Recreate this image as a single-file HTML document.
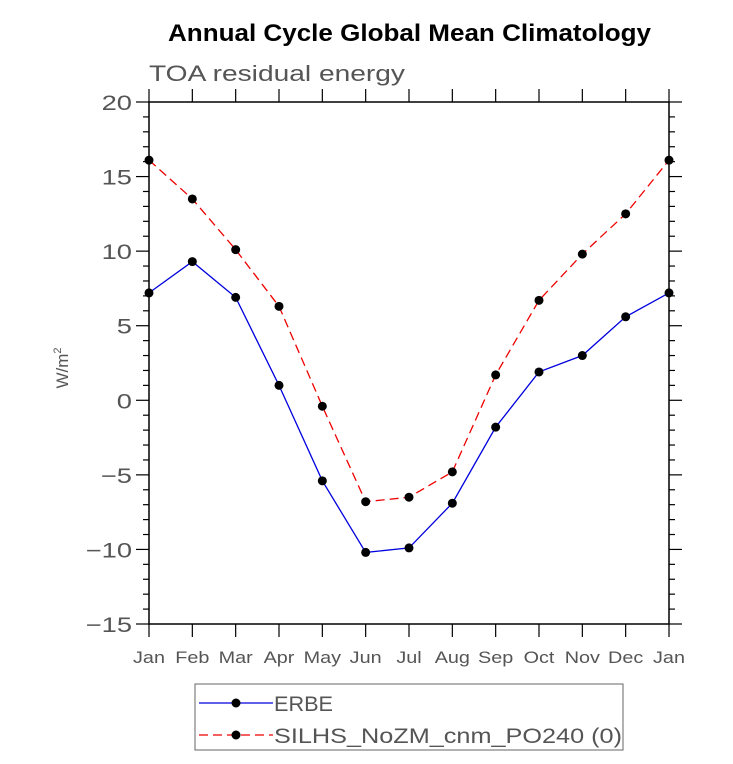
<!DOCTYPE html>
<html><head><meta charset="utf-8"><style>
body{margin:0;background:#fff;}
svg text{font-family:"Liberation Sans",sans-serif;}
</style></head><body>
<svg id="chart" width="733" height="759" xmlns="http://www.w3.org/2000/svg">
<text x="168" y="41" font-size="24" font-weight="bold" fill="#000" textLength="483" lengthAdjust="spacingAndGlyphs">Annual Cycle Global Mean Climatology</text>
<text x="149" y="81" font-size="22" fill="#555" textLength="256" lengthAdjust="spacingAndGlyphs">TOA residual energy</text>
<text transform="translate(68,368) rotate(-90)" text-anchor="middle" font-size="17" fill="#555">W/m<tspan font-size="11" dy="-7">2</tspan></text>
<g id="axes"></g>
<g id="series"></g>
<g>
<rect x="195" y="684" width="428" height="66" fill="none" stroke="#666" stroke-width="1"/>
<line x1="199" y1="703" x2="273" y2="703" stroke="#0000dd" stroke-width="1.3"/>
<circle cx="236" cy="703" r="4.5" fill="#000"/>
<text x="274" y="711" font-size="21" fill="#555" textLength="59" lengthAdjust="spacingAndGlyphs">ERBE</text>
<line x1="199" y1="735" x2="273" y2="735" stroke="#ee0000" stroke-width="1.3" stroke-dasharray="9,5"/>
<circle cx="236" cy="735" r="4.5" fill="#000"/>
<text x="274" y="743" font-size="21" fill="#555" textLength="348" lengthAdjust="spacingAndGlyphs">SILHS_NoZM_cnm_PO240 (0)</text>
</g>
</svg>
<script>
const months=["Jan","Feb","Mar","Apr","May","Jun","Jul","Aug","Sep","Oct","Nov","Dec","Jan"];
const erbe=[7.2,9.3,6.9,1.0,-5.4,-10.2,-9.9,-6.9,-1.8,1.9,3.0,5.6,7.2];
const silhs=[16.1,13.5,10.1,6.3,-0.4,-6.8,-6.5,-4.8,1.7,6.7,9.8,12.5,16.1];
const yTicks=[-15,-10,-5,0,5,10,15,20];
const L=149,R=669,T=102,B=624,ymin=-15,ymax=20;
const xs=i=>L+i*(R-L)/12;
const ys=v=>B-(v-ymin)*(B-T)/(ymax-ymin);
const NS="http://www.w3.org/2000/svg";
function mk(tag,attrs,parent){const e=document.createElementNS(NS,tag);for(const k in attrs)e.setAttribute(k,attrs[k]);parent.appendChild(e);return e;}
function stretch(t,f){const w=t.getComputedTextLength();t.setAttribute('textLength',w*f);t.setAttribute('lengthAdjust','spacingAndGlyphs');}
const ax=document.getElementById('axes');
const frame=mk('rect',{x:L,y:T,width:R-L,height:B-T,fill:'none',stroke:'#000','stroke-width':1.5},ax);


for(let v=ymin;v<=ymax;v++){
 const major=v%5===0,len=major?13:6,y=ys(v);
 mk('line',{x1:L-len,y1:y,x2:L,y2:y,stroke:'#000','stroke-width':1.2},ax);
 mk('line',{x1:R,y1:y,x2:R+len,y2:y,stroke:'#000','stroke-width':1.2},ax);
}
yTicks.forEach(v=>{
 const t=mk('text',{x:L-17,y:ys(v)+8,'text-anchor':'end','font-size':21,fill:'#555'},ax);
 
 
 t.textContent=v<0?'\u2212'+Math.abs(v):String(v);
 stretch(t,1.3);
});
months.forEach((m,i)=>{
 const x=xs(i);
 mk('line',{x1:x,y1:B,x2:x,y2:B+13,stroke:'#000','stroke-width':1.2},ax);
 mk('line',{x1:x,y1:T-13,x2:x,y2:T,stroke:'#000','stroke-width':1.2},ax);
 const t=mk('text',{x:x,y:B+39,'text-anchor':'middle','font-size':16.5,fill:'#555'},ax);
 
 
 t.textContent=m;
 stretch(t,1.2);
});
const sg=document.getElementById('series');
function draw(vals,color,dash,name){
 const p=mk('polyline',{points:vals.map((v,i)=>xs(i)+','+ys(v)).join(' '),fill:'none',stroke:color,'stroke-width':1.3,'stroke-dasharray':dash},sg);
 
 
 vals.forEach((v,i)=>{
  const c=mk('circle',{cx:xs(i),cy:ys(v),r:4.5,fill:'#000'},sg);
  
  
 });
}
draw(erbe,'#0000dd','none','erbe');
draw(silhs,'#ee0000','9,5','silhs');
</script>
</body></html>
